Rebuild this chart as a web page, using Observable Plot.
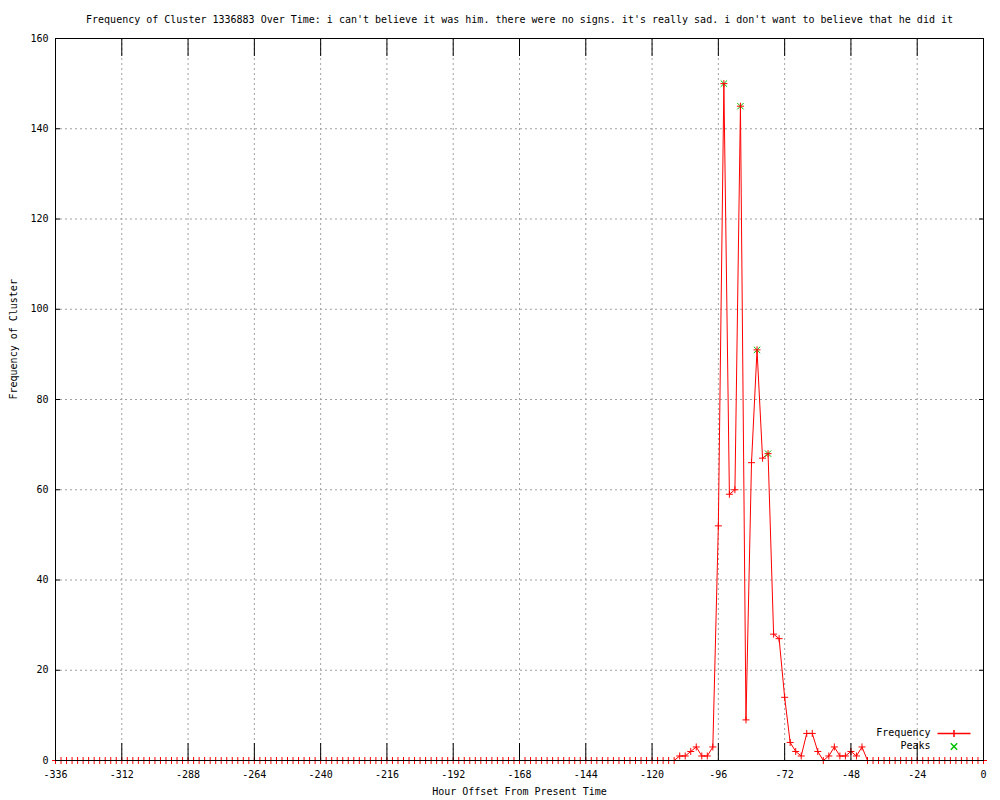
<!DOCTYPE html>
<html>
<head>
<meta charset="utf-8">
<script src="https://cdn.jsdelivr.net/npm/d3@7"></script>
<script src="https://cdn.jsdelivr.net/npm/@observablehq/plot@0.6"></script>
<style>
  html, body { margin: 0; padding: 0; background: white; }
</style>
</head>
<body>
<div id="chart"></div>
<script>
const titleText = "Frequency of Cluster 1336883 Over Time: i can't believe it was him. there were no signs. it's really sad. i don't want to believe that he did it";
const xLabelText = "Hour Offset From Present Time";
const yLabelText = "Frequency of Cluster";
const seriesNames = ["Frequency", "Peaks"];

const hours = [
  -336,-334,-332,-330,-328,-326,-324,-322,-320,-318,-316,-314,
  -312,-310,-308,-306,-304,-302,-300,-298,-296,-294,-292,-290,
  -288,-286,-284,-282,-280,-278,-276,-274,-272,-270,-268,-266,
  -264,-262,-260,-258,-256,-254,-252,-250,-248,-246,-244,-242,
  -240,-238,-236,-234,-232,-230,-228,-226,-224,-222,-220,-218,
  -216,-214,-212,-210,-208,-206,-204,-202,-200,-198,-196,-194,
  -192,-190,-188,-186,-184,-182,-180,-178,-176,-174,-172,-170,
  -168,-166,-164,-162,-160,-158,-156,-154,-152,-150,-148,-146,
  -144,-142,-140,-138,-136,-134,-132,-130,-128,-126,-124,-122,
  -120,-118,-116,-114,-112,-110,-108,-106,-104,-102,-100,-98,
  -96,-94,-92,-90,-88,-86,-84,-82,-80,-78,-76,-74,
  -72,-70,-68,-66,-64,-62,-60,-58,-56,-54,-52,-50,
  -48,-46,-44,-42,-40,-38,-36,-34,-32,-30,-28,-26,
  -24,-22,-20,-18,-16,-14,-12,-10,-8,-6,-4,-2,
  0
];
const frequency = [
  0,0,0,0,0,0,0,0,0,0,0,0,
  0,0,0,0,0,0,0,0,0,0,0,0,
  0,0,0,0,0,0,0,0,0,0,0,0,
  0,0,0,0,0,0,0,0,0,0,0,0,
  0,0,0,0,0,0,0,0,0,0,0,0,
  0,0,0,0,0,0,0,0,0,0,0,0,
  0,0,0,0,0,0,0,0,0,0,0,0,
  0,0,0,0,0,0,0,0,0,0,0,0,
  0,0,0,0,0,0,0,0,0,0,0,0,
  0,0,0,0,0,1,1,2,3,1,1,3,
  52,150,59,60,145,9,66,91,67,68,28,27,
  14,4,2,1,6,6,2,0,1,3,1,1,
  2,1,3,0,0,0,0,0,0,0,0,0,
  0,0,0,0,0,0,0,0,0,0,0,0,
  0
];
const peakHours = [-94, -88, -82, -78];
const peakValues = [150, 145, 91, 68];

const xTicks = [-336,-312,-288,-264,-240,-216,-192,-168,-144,-120,-96,-72,-48,-24,0];
const yTicks = [0,20,40,60,80,100,120,140,160];

const freqData = hours.map((h, i) => ({hour: h, freq: frequency[i]}));
const peakData = peakHours.map((h, i) => ({hour: h, freq: peakValues[i]}));

const plusSymbol = {draw(ctx) { const r = 3.5; ctx.moveTo(-r, 0); ctx.lineTo(r, 0); ctx.moveTo(0, -r); ctx.lineTo(0, r); }};
const crossSymbol = {draw(ctx) { const r = 3.2; ctx.moveTo(-r, -r); ctx.lineTo(r, r); ctx.moveTo(-r, r); ctx.lineTo(r, -r); }};
const lineSampleSymbol = {draw(ctx) { const r = 3.5, L = 16.5; ctx.moveTo(-L, 0); ctx.lineTo(L, 0); ctx.moveTo(0, -r); ctx.lineTo(0, r); }};

const gridStyle = {stroke: "#a0a0a0", strokeOpacity: 1, strokeWidth: 1, strokeDasharray: "2,3"};

const chart = Plot.plot({
  width: 1000,
  height: 800,
  marginTop: 38,
  marginBottom: 40,
  marginLeft: 55,
  marginRight: 17,
  style: {fontFamily: "'DejaVu Sans Mono', 'Liberation Mono', monospace", fontSize: "10px", background: "white", color: "black"},
  x: {domain: [-336, 0], axis: null},
  y: {domain: [0, 160], axis: null},
  marks: [
    Plot.gridX(xTicks, gridStyle),
    Plot.gridY(yTicks, gridStyle),
    Plot.line(freqData, {x: "hour", y: "freq", stroke: "#ff0000", strokeWidth: 1}),
    Plot.dot(peakData, {x: "hour", y: "freq", symbol: crossSymbol, stroke: "#00c000", fill: "none", strokeWidth: 1}),
    Plot.dot(freqData, {x: "hour", y: "freq", symbol: plusSymbol, stroke: "#ff0000", fill: "none", strokeWidth: 1}),
    Plot.frame({stroke: "black"}),
    Plot.axisX({ticks: xTicks, anchor: "bottom", tickSize: -17, tickPadding: 27, tickFormat: d => String(d), label: null, stroke: "black"}),
    Plot.axisX({ticks: xTicks, anchor: "top", tickSize: -17, tickFormat: () => "", label: null, stroke: "black"}),
    Plot.axisY({ticks: yTicks, anchor: "left", tickSize: -5, tickPadding: 12, tickFormat: d => String(d), label: null, stroke: "black"}),
    Plot.axisY({ticks: yTicks, anchor: "right", tickSize: -5, tickFormat: () => "", label: null, stroke: "black"}),
    Plot.text([titleText], {text: d => d, frameAnchor: "top", dy: -23}),
    Plot.text([xLabelText], {text: d => d, frameAnchor: "bottom", dy: 34}),
    Plot.text([yLabelText], {text: d => d, frameAnchor: "left", rotate: -90, dx: -42}),
    Plot.text([seriesNames[0]], {text: d => d, frameAnchor: "bottom-right", textAnchor: "end", dx: -53, dy: -25}),
    Plot.text([seriesNames[1]], {text: d => d, frameAnchor: "bottom-right", textAnchor: "end", dx: -53, dy: -12}),
    Plot.dot([seriesNames[0]], {frameAnchor: "bottom-right", dx: -29.5, dy: -27, symbol: lineSampleSymbol, stroke: "#ff0000", fill: "none"}),
    Plot.dot([seriesNames[1]], {frameAnchor: "bottom-right", dx: -29.5, dy: -14, symbol: crossSymbol, stroke: "#00c000", fill: "none"})
  ]
});
document.getElementById("chart").appendChild(chart);
</script>
</body>
</html>
